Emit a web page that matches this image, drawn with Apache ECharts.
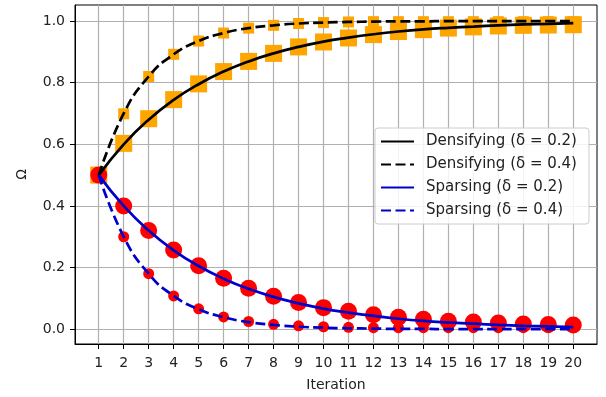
<!DOCTYPE html>
<html>
<head>
<meta charset="utf-8">
<script src="https://cdn.jsdelivr.net/npm/echarts@6/dist/echarts.min.js"></script>
<style>html,body{margin:0;padding:0;background:#fff}#c{width:606px;height:397px}</style>
</head>
<body>
<div id="c"></div>
<script>
const iterations = [1,2,3,4,5,6,7,8,9,10,11,12,13,14,15,16,17,18,19,20];
const yTicks = [0,0.2,0.4,0.6,0.8,1.0];
const seriesNames = ['Densifying (δ = 0.2)','Densifying (δ = 0.4)','Sparsing (δ = 0.2)','Sparsing (δ = 0.4)'];
// curves
const densify02 = [0.5,0.6,0.68,0.744,0.795,0.836,0.869,0.895,0.916,0.933,0.946,0.957,0.966,0.973,0.978,0.982,0.986,0.989,0.991,0.993];
const densify04 = [0.5,0.7,0.82,0.892,0.935,0.961,0.977,0.986,0.992,0.995,0.997,0.998,0.999,0.999,1.0,1.0,1.0,1.0,1.0,1.0];
const sparse02 = [0.5,0.4,0.32,0.256,0.205,0.164,0.131,0.105,0.084,0.067,0.054,0.043,0.034,0.027,0.022,0.018,0.014,0.011,0.009,0.007];
const sparse04 = [0.5,0.3,0.18,0.108,0.065,0.039,0.023,0.014,0.008,0.005,0.003,0.002,0.001,0.001,0.0,0.0,0.0,0.0,0.0,0.0];
// markers
const densify02Pts = [0.5,0.603,0.683,0.745,0.796,0.836,0.869,0.895,0.916,0.932,0.945,0.956,0.966,0.972,0.977,0.981,0.984,0.986,0.987,0.988];
const densify04Pts = [0.5,0.699,0.82,0.892,0.935,0.961,0.977,0.986,0.992,0.995,0.997,0.998,0.998,0.998,0.998,0.998,0.998,0.998,0.998,0.998];
const sparse02Pts = [0.5,0.4,0.32,0.257,0.206,0.165,0.133,0.107,0.087,0.07,0.058,0.047,0.039,0.032,0.026,0.023,0.02,0.017,0.015,0.014];
const sparse04Pts = [0.5,0.3,0.18,0.108,0.066,0.04,0.025,0.016,0.011,0.008,0.006,0.005,0.005,0.005,0.005,0.005,0.005,0.005,0.005,0.005];

const pair = arr => iterations.map((x,i)=>[x,arr[i]]);
const font = 'DejaVu Sans';
const chart = echarts.init(document.getElementById('c'), null, {renderer:'canvas'});

function scatter(arr, symbol, size, color){
  return {type:'scatter', data: pair(arr), symbol, symbolSize:size, itemStyle:{color, opacity:1}, silent:true, z:2};
}
function line(name, arr, color, dashed){
  return {type:'line', name, data: pair(arr), symbol:'none', smooth:0.5,
    lineStyle:{color, width:2.7, type: dashed ? [10,4.5] : 'solid'}, itemStyle:{color}, z:3, silent:true};
}

chart.setOption({
  animation:false,
  backgroundColor:'#fff',
  grid:{left:75, right:9, top:5, bottom:51, show:true, borderColor:'#000', borderWidth:1, backgroundColor:'transparent'},
  legend:{
    orient:'vertical', left:375, top:128, itemWidth:33, itemHeight:14, itemGap:8,
    padding:[6,12,6,5], backgroundColor:'rgba(255,255,255,0.85)', borderColor:'#cccccc', borderWidth:1, borderRadius:3,
    itemStyle:{opacity:0},
    textStyle:{fontFamily:font, fontSize:15, color:'#222', padding:[0,0,0,7]},
    data: seriesNames
  },
  xAxis:{
    type:'value', min:0.05, max:20.95,
    name:'Iteration', nameLocation:'middle', nameGap:34,
    nameTextStyle:{fontFamily:font, fontSize:14, color:'#222'},
    axisLine:{show:true, onZero:false, lineStyle:{color:'#000', width:1}},
    axisTick:{show:true, length:5, inside:false, lineStyle:{color:'#000'}, customValues: iterations},
    axisLabel:{fontFamily:font, fontSize:14, color:'#222', margin:12, customValues: iterations, formatter: v=>String(v)},
    splitLine:{show:true, lineStyle:{color:'#b0b0b0', width:1.2}}
  },
  yAxis:{
    type:'value', min:-0.048, max:1.052,
    name:'Ω', nameLocation:'middle', nameGap:46, nameRotate:90,
    nameTextStyle:{fontFamily:font, fontSize:14, color:'#222'},
    axisLine:{show:true, onZero:false, lineStyle:{color:'#000', width:1}},
    axisTick:{show:true, length:5, lineStyle:{color:'#000'}, customValues: yTicks},
    axisLabel:{fontFamily:font, fontSize:14, color:'#222', margin:10, customValues: yTicks, formatter: v=>v.toFixed(1)},
    splitLine:{show:true, lineStyle:{color:'#b0b0b0', width:1.2}}
  },
  series:[
    scatter(densify02Pts,'rect',17,'#ffa500'),
    scatter(densify04Pts,'rect',11,'#ffa500'),
    scatter(sparse02Pts,'circle',17,'#ff0000'),
    scatter(sparse04Pts,'circle',11,'#ff0000'),
    line(seriesNames[0], densify02, '#000000', false),
    line(seriesNames[1], densify04, '#000000', true),
    line(seriesNames[2], sparse02, '#0000cc', false),
    line(seriesNames[3], sparse04, '#0000cc', true)
  ]
});
</script>
</body>
</html>
